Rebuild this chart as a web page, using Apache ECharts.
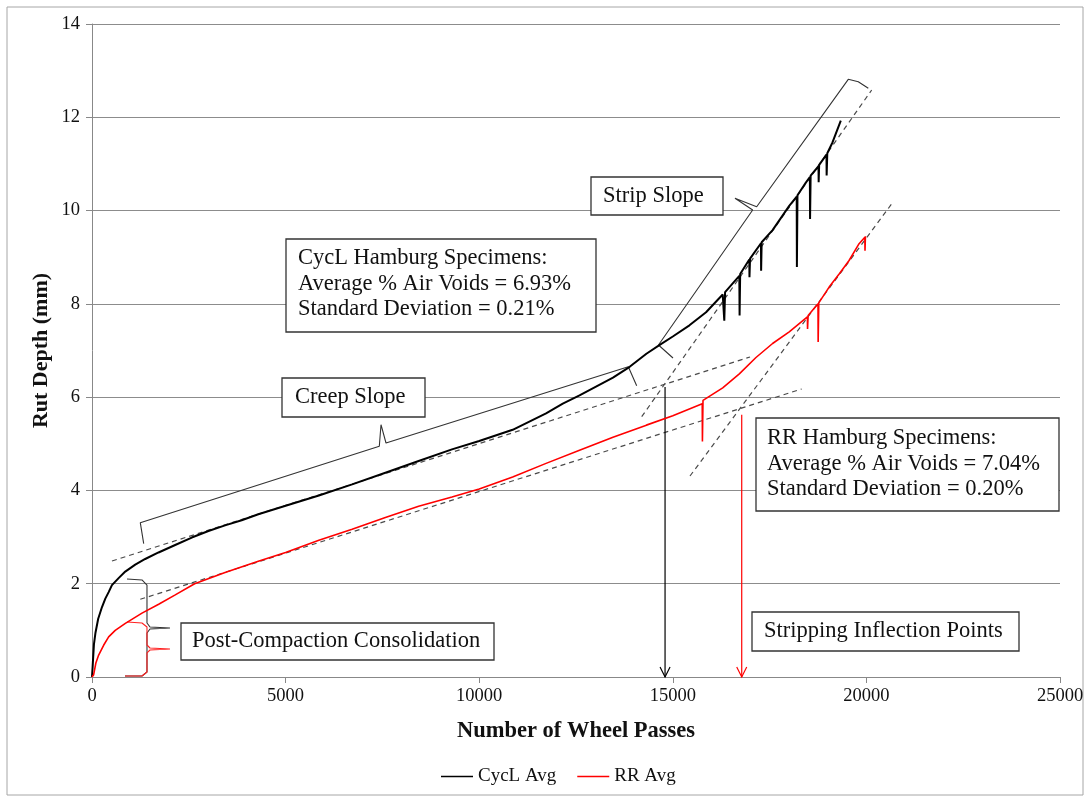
<!DOCTYPE html>
<html style="height: 100%">
<head>
<meta charset="utf-8">
<script src="https://cdn.jsdelivr.net/npm/echarts@6/dist/echarts.min.js"></script>
<title>Hamburg rut depth</title>
</head>
<body style="height: 100%; margin: 0; background: #fff">
<div id="container" style="width: 1090px; height: 800px"></div>
<script type="text/javascript">

// rut depth (mm) vs wheel passes
const cyclAvg = [
    [0, 0], [15, 0.2], [25, 0.35], [50, 0.7], [90, 0.95], [160, 1.25], [258, 1.5], [344, 1.68], [430, 1.82],
    [515, 1.97], [687, 2.12], [859, 2.26], [1117, 2.41], [1374, 2.53], [1718, 2.67], [2148, 2.83],
    [2577, 2.99], [3007, 3.13], [3436, 3.25], [3866, 3.36], [4295, 3.49], [5000, 3.67], [5859, 3.89],
    [6718, 4.13], [7577, 4.38], [8436, 4.63], [9296, 4.88], [10000, 5.06], [10864, 5.3], [11727, 5.65],
    [12159, 5.86], [12591, 6.04], [13455, 6.42], [13886, 6.65], [14318, 6.93], [14663, 7.12],
    [15000, 7.3], [15430, 7.54], [15859, 7.82], [16289, 8.2], [16330, 7.64], [16350, 8.25],
    [16718, 8.6], [16725, 7.75], [16740, 8.64], [16976, 8.95], [16980, 8.57], [16995, 8.97],
    [17277, 9.3], [17281, 8.71], [17295, 9.32], [17577, 9.58], [18007, 10.1], [18200, 10.3],
    [18205, 8.79], [18220, 10.33], [18436, 10.6], [18540, 10.72], [18545, 9.82], [18560, 10.75],
    [18763, 10.95], [18767, 10.61], [18780, 10.98], [18969, 11.2], [18973, 10.75], [18990, 11.23],
    [19124, 11.46], [19339, 11.93]
];
const rrAvg = [
    [0, 0], [43, 0.05], [100, 0.3], [172, 0.47], [300, 0.68], [430, 0.86], [600, 1.0], [861, 1.15],
    [1291, 1.37], [1722, 1.56], [2150, 1.76], [2650, 2.0], [3436, 2.24], [4295, 2.48], [5000, 2.67],
    [5859, 2.93], [6718, 3.17], [7577, 3.42], [8436, 3.66], [9296, 3.86], [10000, 4.03], [10864, 4.29],
    [11727, 4.58], [12591, 4.86], [13455, 5.14], [14318, 5.4], [15000, 5.6], [15760, 5.86],
    [15765, 5.05], [15780, 5.93], [16289, 6.2], [16718, 6.5], [17148, 6.85], [17577, 7.15],
    [18007, 7.4], [18476, 7.72], [18480, 7.46], [18495, 7.75], [18750, 8.0], [18754, 7.18],
    [18770, 8.02], [19038, 8.36], [19296, 8.64], [19553, 8.93], [19811, 9.29], [19960, 9.43],
    [19964, 9.14], [19975, 9.45]
];

// tangent lines (dashed)
const creepTanCycl = [[516, 2.487], [16994, 6.861]];
const creepTanRR = [[1247, 1.666], [18329, 6.175]];
const stripTanCycl = [[14197, 5.581], [20137, 12.585]];
const stripTanRR = [[15444, 4.309], [20695, 10.19]];

// stripping inflection points: [passes, top of arrow]
const inflections = [[14800, 6.22], [16780, 5.62]];

// brackets
const creepBracket = [[1335, 2.858], [1247, 3.308], [7420, 4.946], [7464, 5.409], [7593, 5.017], [13851, 6.653], [14067, 6.245]];
const stripBracket = [[15005, 6.839], [14630, 7.118], [17063, 10.012], [16606, 10.263], [17166, 10.083], [19532, 12.814], [19790, 12.763], [20049, 12.621]];
const pccCycl = [[904, 2.101], [1291, 2.08], [1420, 1.972], [1420, 1.158], [1498, 1.072], [2014, 1.051], [1498, 1.029], [1420, 0.943], [1420, 0.107], [1291, 0.021], [852, 0.021]];
const pccRR = [[904, 1.179], [1291, 1.158], [1420, 1.072], [1420, 0.686], [1498, 0.622], [2014, 0.6], [1498, 0.579], [1420, 0.515], [1420, 0.107], [1291, 0.021], [852, 0.021]];

const FONT = 'Liberation Serif';

function dashed(data) {
    return {
        type: 'line', data: data, symbol: 'none', silent: true, z: 2,
        lineStyle: { color: '#4a4a4a', width: 1.2, type: [5, 4] }
    };
}
function bracket(data, color) {
    return {
        type: 'line', data: data, symbol: 'none', silent: true, z: 4,
        lineStyle: { color: color, width: 1.1 }
    };
}

// white label box drawn above everything, gridlines included
function box(x, y, w, h, lines, tx, ty) {
    return {
        type: 'group',
        children: [
            { type: 'rect', z: 100, shape: { x: x, y: y, width: w, height: h },
              style: { fill: '#fff', stroke: '#333', lineWidth: 1.3 } },
            { type: 'text', z: 101, x: tx, y: ty,
              style: { text: lines.join('\n'), font: '22.5px "' + FONT + '"', fill: '#111',
                       lineHeight: 25.5, verticalAlign: 'middle' } }
        ]
    };
}

let chart = echarts.init(document.getElementById('container'));
chart.setOption({
    animation: false,
    backgroundColor: '#fff',
    grid: { left: 92, right: 30, top: 24, bottom: 123 },
    xAxis: {
        type: 'value', min: 0, max: 25000, interval: 5000,
        name: 'Number of Wheel Passes', nameLocation: 'middle', nameGap: 43,
        nameTextStyle: { fontFamily: FONT, fontWeight: 'bold', fontSize: 22.5, color: '#111' },
        axisLine: { lineStyle: { color: '#888' } },
        axisTick: { show: true, length: 6, lineStyle: { color: '#888' } },
        axisLabel: { fontFamily: FONT, fontSize: 18.5, color: '#111', margin: 10,
                     formatter: function (v) { return String(v); } },
        splitLine: { show: false }
    },
    yAxis: {
        type: 'value', min: 0, max: 14, interval: 2,
        name: 'Rut Depth (mm)', nameLocation: 'middle', nameGap: 40, nameMoveOverlap: false,
        nameTextStyle: { fontFamily: FONT, fontWeight: 'bold', fontSize: 22, color: '#111' },
        axisLine: { show: true, lineStyle: { color: '#888' } },
        axisTick: { show: true, length: 6, lineStyle: { color: '#888' } },
        axisLabel: { fontFamily: FONT, fontSize: 18.5, color: '#111', margin: 12 },
        splitLine: { lineStyle: { color: '#8c8c8c', width: 1 } }
    },
    legend: {
        data: ['CycL Avg', 'RR Avg'],
        left: 436, top: 762, itemWidth: 32, itemHeight: 1.5, itemGap: 21, icon: 'rect',
        textStyle: { fontFamily: FONT, fontSize: 19, color: '#111' }
    },
    series: [
        dashed(creepTanCycl), dashed(creepTanRR), dashed(stripTanCycl), dashed(stripTanRR),
        bracket(creepBracket, '#333'), bracket(stripBracket, '#333'),
        bracket(pccCycl, '#333'), bracket(pccRR, '#ff2020'),
        {
            name: 'CycL Avg', type: 'line', data: cyclAvg, symbol: 'none', z: 5,
            lineStyle: { color: '#000', width: 2 }, itemStyle: { color: '#000' }
        },
        {
            name: 'RR Avg', type: 'line', data: rrAvg, symbol: 'none', z: 5,
            lineStyle: { color: '#ff0000', width: 1.6 }, itemStyle: { color: '#ff0000' }
        },
        {
            type: 'custom', silent: true, z: 3, data: inflections,
            renderItem: function (params, api) {
                const color = params.dataIndex === 0 ? '#000' : '#ff0000';
                const top = api.coord([api.value(0), api.value(1)]);
                const bot = api.coord([api.value(0), 0]);
                return {
                    type: 'group',
                    children: [
                        { type: 'line', shape: { x1: top[0], y1: top[1], x2: bot[0], y2: bot[1] },
                          style: { stroke: color, lineWidth: 1.2 } },
                        { type: 'polyline', shape: { points: [[bot[0] - 5, bot[1] - 10], [bot[0], bot[1]], [bot[0] + 5, bot[1] - 10]] },
                          style: { stroke: color, fill: null, lineWidth: 1.2 } }
                    ]
                };
            }
        }
    ],
    graphic: [
        { type: 'rect', z: -1, shape: { x: 7, y: 7, width: 1076, height: 788 },
          style: { fill: null, stroke: '#a6a6a6', lineWidth: 1 } },
        box(286, 239, 310, 93, ['CycL Hamburg Specimens:', 'Average % Air Voids = 6.93%', 'Standard Deviation = 0.21%'], 298, 284),
        box(282, 378, 143, 39, ['Creep Slope'], 295, 397),
        box(591, 177, 132, 38, ['Strip Slope'], 603, 196),
        box(756, 418, 303, 93, ['RR Hamburg Specimens:', 'Average % Air Voids = 7.04%', 'Standard Deviation = 0.20%'], 767, 464),
        box(752, 612, 267, 39, ['Stripping Inflection Points'], 764, 631),
        box(181, 623, 313, 37, ['Post-Compaction Consolidation'], 192, 641)
    ]
});

</script>
</body>
</html>
